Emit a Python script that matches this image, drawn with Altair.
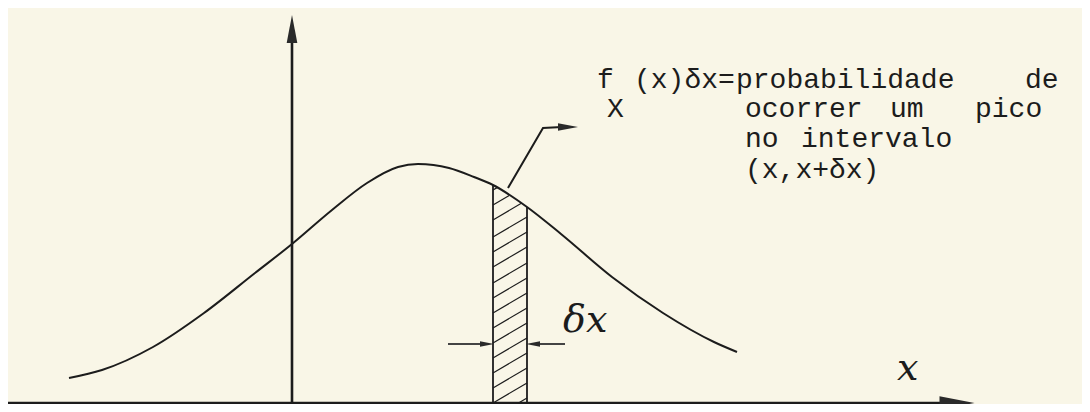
import altair as alt
import pandas as pd

# ---- values (x: horizontal position, y: height above the x axis) ----
curve_x = [69, 102, 153, 204, 255, 292, 332, 367, 398, 418, 449, 474, 493, 527, 561, 612, 663, 714, 737]
curve_y = [26, 34, 57, 91, 131, 160, 194, 221, 237, 240, 236, 227, 219, 197, 170, 127, 91, 62, 52]

strip_x = [493, 527]          # the interval (x, x+dx)
strip_top = [219, 197]        # curve height at both edges
hatch_start = [-14, 1, 16, 31, 46, 61, 76, 91, 106, 121, 137, 152, 167, 184, 199, 214]
hatch_rise = 20

base_y = 1
xaxis_x = [8, 950]
yaxis_x = 292
yaxis_top = 370

leader_x = [508, 543, 562]
leader_y = [216, 276, 277]

dx_left_x = [448, 488]
dx_right_x = [532, 565]
dx_arrow_y = 60

arrow_x = [292, 957, 568, 487, 533]
arrow_y = [375, 1, 277, 60, 60]
arrow_ang = [270, 0, 0, 0, 180]
arrow_size = [784, 1225, 400, 196, 196]

note_text = ["f", "(x)δx=", "probabilidade", "de", "X", "ocorrer", "um", "pico",
             "no", "intervalo", "(x,x+δx)"]
note_x = [597, 634, 736, 1025, 607, 745, 890, 975, 745, 801, 745]
note_y = [316, 316, 316, 316, 287, 287, 287, 287, 257, 257, 226]

hand_text = ["δx", "x"]
hand_x = [563, 897]
hand_y = [72, 24]
hand_size = [38, 38]

INK = "#1c1c1c"
BG = "#f9f6e7"

xsc = alt.Scale(domain=[8, 1082], nice=False, zero=False)
ysc = alt.Scale(domain=[0, 396], nice=False, zero=False)


def X(f="x"):
    return alt.X(f"{f}:Q", scale=xsc, axis=None)


def Y(f="y"):
    return alt.Y(f"{f}:Q", scale=ysc, axis=None)


# curve
curve_df = pd.DataFrame({"x": curve_x, "y": curve_y})
curve = alt.Chart(curve_df).mark_line(color=INK, strokeWidth=2, interpolate="monotone").encode(x=X(), y=Y())

# axes
axes_df = pd.DataFrame({
    "x": [xaxis_x[0], yaxis_x],
    "y": [base_y, base_y],
    "x2": [xaxis_x[1], yaxis_x],
    "y2": [base_y, yaxis_top],
})
axes = alt.Chart(axes_df).mark_rule(color=INK, strokeWidth=2.6).encode(
    x=X(), y=Y(), x2="x2:Q", y2="y2:Q")

# strip edges
edges_df = pd.DataFrame({"x": strip_x, "y": [base_y, base_y], "y2": strip_top})
edges = alt.Chart(edges_df).mark_rule(color=INK, strokeWidth=1.8).encode(x=X(), y=Y(), y2="y2:Q")

# hatching, clipped to the strip
w = strip_x[1] - strip_x[0]
drop = strip_top[0] - strip_top[1]
rows = []
for h in hatch_start:
    u0, u1 = 0.0, 1.0
    if h < base_y:
        u0 = (base_y - h) / hatch_rise
    ut = (strip_top[0] - h) / (hatch_rise + drop)
    u1 = min(u1, ut)
    if u1 <= u0:
        continue
    rows.append({
        "x": strip_x[0] + w * u0, "y": h + hatch_rise * u0,
        "x2": strip_x[0] + w * u1, "y2": h + hatch_rise * u1,
    })
hatch = alt.Chart(pd.DataFrame(rows)).mark_rule(color=INK, strokeWidth=1.2).encode(
    x=X(), y=Y(), x2="x2:Q", y2="y2:Q")

# leader line
leader_df = pd.DataFrame({"x": leader_x, "y": leader_y, "o": [0, 1, 2]})
leader = alt.Chart(leader_df).mark_line(color=INK, strokeWidth=2).encode(
    x=X(), y=Y(), order="o:Q")

# dx arrows shafts
shaft_df = pd.DataFrame({
    "x": [dx_left_x[0], dx_right_x[0]],
    "x2": [dx_left_x[1], dx_right_x[1]],
    "y": [dx_arrow_y, dx_arrow_y],
})
shafts = alt.Chart(shaft_df).mark_rule(color="#444", strokeWidth=1.8).encode(x=X(), x2="x2:Q", y=Y())

# arrowheads
arr_df = pd.DataFrame({"x": arrow_x, "y": arrow_y, "ang": arrow_ang, "sz": arrow_size})
heads = alt.Chart(arr_df).mark_point(
    shape="M1,0L-1,-0.38L-1,0.38Z", filled=True, color="#2a2a2a", opacity=1
).encode(
    x=X(), y=Y(),
    angle=alt.Angle("ang:Q", scale=None),
    size=alt.Size("sz:Q", scale=None),
)

# typewriter note
note_df = pd.DataFrame({"x": note_x, "y": note_y, "t": note_text})
note = alt.Chart(note_df).mark_text(
    font="Liberation Mono", fontSize=28, align="left", baseline="alphabetic", color=INK
).encode(x=X(), y=Y(), text="t:N")

# handwritten labels
hand_df = pd.DataFrame({"x": hand_x, "y": hand_y, "t": hand_text, "fs": hand_size})
hand = alt.Chart(hand_df).mark_text(
    font="DejaVu Serif", fontStyle="italic", align="left", baseline="alphabetic", color=INK
).encode(x=X(), y=Y(), text="t:N", size=alt.Size("fs:Q", scale=None))

chart = alt.layer(curve, axes, edges, hatch, leader, shafts, heads, note, hand).properties(
    width=1074, height=396, padding=0, background=BG,
    autosize=alt.AutoSizeParams(type="none"),
).configure_view(stroke=None)

chart.save("out.html", embed_options={"renderer": "svg", "actions": False})
